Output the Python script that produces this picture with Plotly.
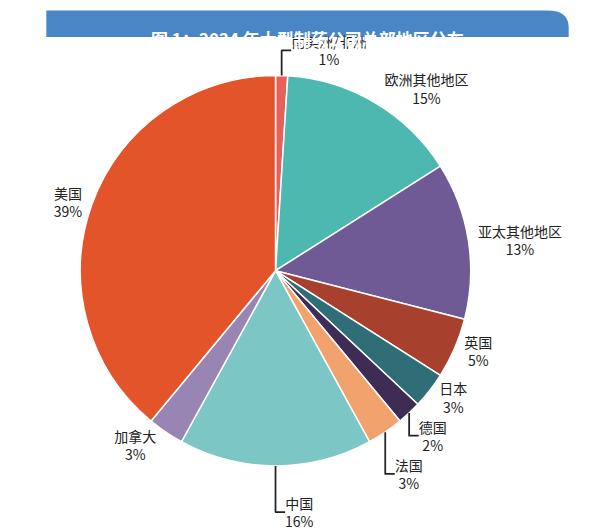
import plotly.graph_objects as go

labels = ["南美洲/非洲", "欧洲其他地区", "亚太其他地区", "英国", "日本", "德国", "法国", "中国", "加拿大", "美国"]
values = [1, 15, 13, 5, 3, 2, 3, 16, 3, 39]
colors = ["#e8605a", "#4db8b0", "#705a96", "#a8402e", "#2f6e76", "#3e2c55", "#f2a26c", "#7cc6c6", "#9985b4", "#e4542a"]

fig = go.Figure(go.Pie(
    labels=labels, values=values, sort=False, direction="clockwise", rotation=0,
    marker=dict(colors=colors, line=dict(color="white", width=1.5)),
    texttemplate="%{label}<br>%{value}%", textposition="outside",
    textfont=dict(size=14, color="#222", family="Noto Sans CJK SC"),
    domain=dict(x=[0.04, 0.84], y=[0.05, 0.86]),
    showlegend=False, hoverinfo="label+value"))

fig.add_shape(type="path", xref="paper", yref="paper",
              path="M 0.01 0.94 L 0.01 0.995 L 0.95 0.995 Q 0.99 0.995 0.99 0.96 L 0.99 0.94 Z",
              fillcolor="#4a86c5", line=dict(width=0), layer="below")
fig.add_annotation(text="<b>图 1：2024 年大型制药公司总部地区分布</b>", x=0.5, y=0.967, xref="paper", yref="paper",
                   showarrow=False, font=dict(size=17, color="white", family="Noto Sans CJK SC"))
fig.update_layout(width=600, height=528, margin=dict(l=0, r=0, t=0, b=0),
                  paper_bgcolor="white", plot_bgcolor="white")
fig.write_html("out.html")
